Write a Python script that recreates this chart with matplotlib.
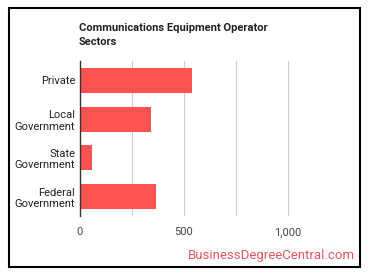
import matplotlib.pyplot as plt
from matplotlib.patches import Rectangle

plt.rcParams['font.family'] = ['Roboto', 'DejaVu Sans']

# data
sectors = ['Private', 'Local\nGovernment', 'State\nGovernment', 'Federal\nGovernment']
workers = [542, 342, 62, 369]
x_ticks = [0, 500, 1000]
x_tick_labels = ['0', '500', '1,000']

W, H = 370, 278
fig = plt.figure(figsize=(W / 100, H / 100), dpi=100)

# plot area in pixels: left 79.5, right 339.5, top 61, bottom 216
ax = fig.add_axes([79.5 / W, 1 - 216 / H, 260 / W, 155 / H])
ypos = list(range(len(sectors)))
ax.barh(ypos, workers, height=0.64, color='#ff5252', zorder=2)
ax.set_ylim(len(sectors) - 0.5, -0.5)
ax.set_xlim(0, 1250)

ax.set_xticks(x_ticks)
ax.set_xticklabels(x_tick_labels)
ax.set_yticks(ypos)
ax.set_yticklabels(sectors, ha='right', linespacing=1.2)
ax.tick_params(axis='both', length=0, labelsize=8, colors='#444444')
ax.tick_params(axis='x', pad=8)
ax.tick_params(axis='y', pad=3)
for lbl in ax.get_yticklabels():
    lbl.set_color('#222222')

for g in [250, 500, 750, 1000]:
    ax.axvline(g, color='#cccccc', linewidth=0.8, zorder=1)

for s in ['top', 'right', 'bottom']:
    ax.spines[s].set_visible(False)
ax.spines['left'].set_color('#333333')
ax.spines['left'].set_linewidth(1.0)
ax.spines['left'].set_zorder(3)

fig.text(79 / W, 1 - 35 / H, 'Communications Equipment Operator\nSectors',
         fontsize=8, fontweight='bold', color='#222222', va='center', ha='left',
         linespacing=1.45)

fig.text(355 / W, 1 - 255 / H, 'BusinessDegreeCentral.com', fontsize=9.5,
         color='#e8575f', ha='right', va='center')

fig.patches.append(Rectangle((8.5 / W, 1 - 267 / H), 351 / W, 259 / H,
                             transform=fig.transFigure, fill=False,
                             edgecolor='black', linewidth=1.5))

fig.savefig('out.png', dpi=100)
